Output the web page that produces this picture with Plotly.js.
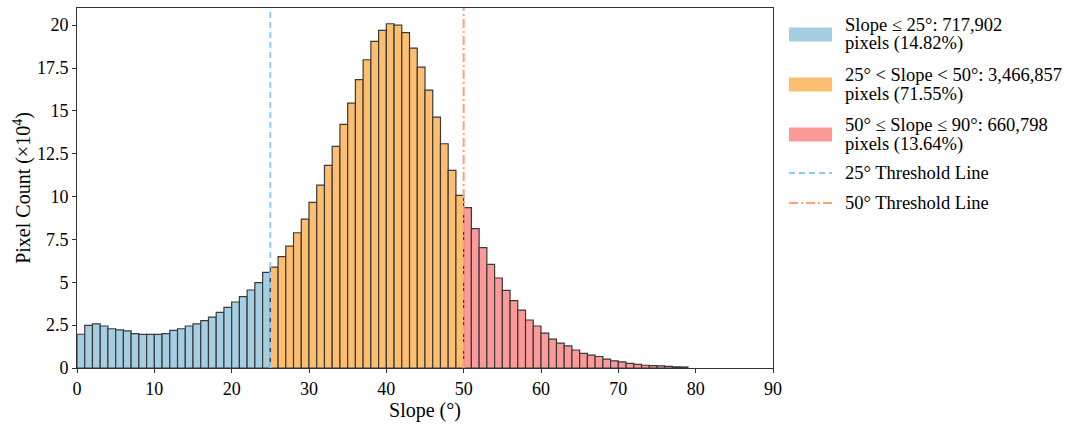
<!DOCTYPE html>
<html>
<head>
<meta charset="utf-8">
<script src="https://cdn.plot.ly/plotly-3.0.1.min.js"></script>
<style>
  html, body { margin: 0; padding: 0; background: #ffffff; }
  #chart { width: 1080px; height: 426px; }
</style>
</head>
<body>
<div id="chart"></div>
<script>
// ---- Data (pixel counts per 1° slope bin, in units of 10^4) ----
const lowBinStarts = [0,1,2,3,4,5,6,7,8,9,10,11,12,13,14,15,16,17,18,19,20,21,22,23,24];
const lowCounts = [1.97,2.49,2.57,2.45,2.29,2.22,2.16,2.00,1.96,1.96,1.96,2.00,2.20,2.29,2.45,2.57,2.76,2.97,3.25,3.54,3.85,4.16,4.55,4.98,5.58];

const midBinStarts = [25,26,27,28,29,30,31,32,33,34,35,36,37,38,39,40,41,42,43,44,45,46,47,48,49];
const midCounts = [5.89,6.50,7.11,7.89,8.69,9.66,10.67,11.82,12.93,14.21,15.45,16.82,17.98,19.05,19.69,20.08,20.00,19.56,18.66,17.55,16.21,14.64,13.08,11.53,10.07];

const highBinStarts = [50,51,52,53,54,55,56,57,58,59,60,61,62,63,64,65,66,67,68,69,70,71,72,73,74,75,76,77,78];
const highCounts = [9.35,8.13,7.02,6.05,5.25,4.53,3.93,3.38,2.80,2.45,2.04,1.69,1.45,1.29,1.05,0.85,0.75,0.67,0.52,0.42,0.36,0.27,0.21,0.16,0.14,0.12,0.10,0.07,0.06];

const thresholds = [25, 50];
const classNames = ["Slope \u2264 25\u00b0", "25\u00b0 < Slope < 50\u00b0", "50\u00b0 \u2264 Slope \u2264 90\u00b0"];
const classPixels = ["717,902", "3,466,857", "660,798"];
const classPercents = ["14.82%", "71.55%", "13.64%"];
const lineNames = ["25\u00b0 Threshold Line", "50\u00b0 Threshold Line"];
const xTicks = [0,10,20,30,40,50,60,70,80,90];
const yTicks = [0,2.5,5,7.5,10,12.5,15,17.5,20];

// ---- Styling ----
const FONT = "Liberation Serif, Times New Roman, serif";
const fills = ["#a6cee3", "#fdbf6f", "#fb9a99"];
const lineColors = ["#87cefa", "#ffa07a"];
const lineDashes = ["6px,4px", "9px,3px,2px,3px"];
const edge = "#3a3a3a";

// plot-area geometry (pixels)
const W = 1080, H = 426;
const L = 77, R = 773, T = 8, B = 368;
const px2x = p => (p - L) / (R - L);
const px2y = p => (B - p) / (B - T);

function barTrace(xs, ys, color, name) {
  return {
    type: "bar", x: xs, y: ys, name: name,
    offset: 0, width: 1,
    marker: { color: color, line: { color: edge, width: 1.2 } },
    showlegend: false, hoverinfo: "x+y"
  };
}

const traces = [
  barTrace(lowBinStarts, lowCounts, fills[0], classNames[0]),
  barTrace(midBinStarts, midCounts, fills[1], classNames[1]),
  barTrace(highBinStarts, highCounts, fills[2], classNames[2])
];

const shapes = [];
const annotations = [];

// threshold lines
thresholds.forEach((t, i) => {
  shapes.push({
    type: "line", xref: "x", yref: "paper", x0: t, x1: t, y0: 0, y1: 1,
    line: { color: lineColors[i], width: 2, dash: lineDashes[i] }, layer: "above"
  });
});

function legendText(txt, ypx) {
  annotations.push({
    xref: "paper", yref: "paper", x: px2x(843), y: px2y(ypx),
    xanchor: "left", yanchor: "middle", align: "left", showarrow: false,
    text: txt, font: { family: FONT, size: 18.5, color: "#000" }
  });
}

// custom legend
const patchX0 = 789, patchX1 = 832;
const patchCenters = [34.5, 84.5, 134.5];
for (let i = 0; i < 3; i++) {
  shapes.push({
    type: "rect", xref: "paper", yref: "paper",
    x0: px2x(patchX0), x1: px2x(patchX1),
    y0: px2y(patchCenters[i] + 7), y1: px2y(patchCenters[i] - 7),
    fillcolor: fills[i], line: { width: 0 }, layer: "above"
  });
  legendText(classNames[i] + ": " + classPixels[i], patchCenters[i] - 9.5);
  legendText("pixels (" + classPercents[i] + ")", patchCenters[i] + 9.5);
}
const lineRows = [173, 203];
for (let i = 0; i < 2; i++) {
  shapes.push({
    type: "line", xref: "paper", yref: "paper",
    x0: px2x(patchX0), x1: px2x(patchX1), y0: px2y(lineRows[i]), y1: px2y(lineRows[i]),
    line: { color: lineColors[i], width: 2, dash: lineDashes[i] }
  });
  legendText(lineNames[i], lineRows[i]);
}

const axisCommon = {
  showgrid: false, zeroline: false,
  showline: true, mirror: true, linecolor: "#333", linewidth: 1,
  ticks: "outside", ticklen: 4, tickwidth: 1, tickcolor: "#333",
  tickfont: { family: FONT, size: 18, color: "#000" }
};

const layout = {
  width: W, height: H,
  margin: { l: L, r: W - R, t: T, b: H - B, pad: 0 },
  paper_bgcolor: "#ffffff", plot_bgcolor: "#ffffff",
  bargap: 0,
  barmode: "overlay",
  font: { family: FONT, color: "#000" },
  xaxis: Object.assign({}, axisCommon, {
    range: [0, 90], tickmode: "array", tickvals: xTicks,
    title: { text: "Slope (\u00b0)", font: { family: FONT, size: 20, color: "#000" }, standoff: 4 }
  }),
  yaxis: Object.assign({}, axisCommon, {
    range: [0, 21], tickmode: "array", tickvals: yTicks,
    ticktext: yTicks.map(v => String(v)),
    title: { text: "Pixel Count (\u00d710<sup>4</sup>)", font: { family: FONT, size: 20, color: "#000" }, standoff: 0 }
  }),
  shapes: shapes,
  annotations: annotations,
  showlegend: false
};

Plotly.newPlot("chart", traces, layout, { displayModeBar: false, staticPlot: true });
</script>
</body>
</html>
